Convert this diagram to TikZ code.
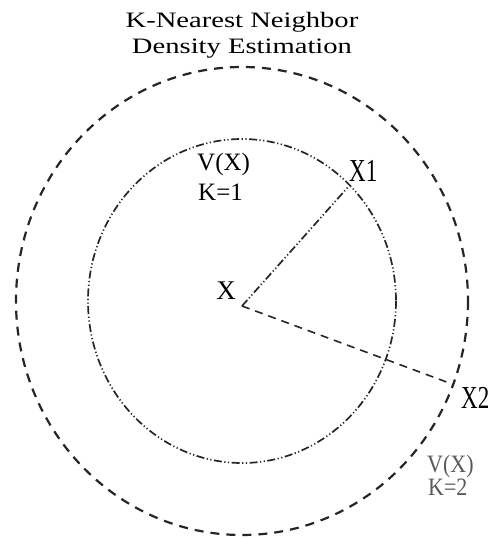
\documentclass[tikz,border=0pt]{standalone}
\usepackage{fontspec}
\setmainfont{Liberation Serif}
\newfontfamily\titlefont[FakeStretch=1.3]{Liberation Serif}
\newfontfamily\narrowfont[FakeStretch=0.72]{Liberation Serif}
\newfontfamily\labfont[FakeStretch=0.88]{Liberation Serif}
\begin{document}
\begin{tikzpicture}[x=1pt,y=-1pt,
  titletext/.style={inner sep=0pt,anchor=base,font=\titlefont\fontsize{22}{26}\selectfont},
  vtext/.style={inner sep=0pt,anchor=base west,font=\fontsize{25}{30}\selectfont},
  vtexttwo/.style={inner sep=0pt,anchor=base west,text=black!65,font=\labfont\fontsize{25}{30}\selectfont},
  ptext/.style={inner sep=0pt,anchor=base west,font=\narrowfont\fontsize{32}{36}\selectfont},
  outerline/.style={line width=2.2pt,dash pattern=on 9pt off 7pt,black!85},
  innerline/.style={line width=1.7pt,dash pattern=on 8pt off 2.5pt on 1.2pt off 2.5pt on 1.2pt off 2.5pt,black!85},
  dashline/.style={line width=1.6pt,dash pattern=on 8pt off 6pt,black!85}]
\useasboundingbox (0,0) rectangle (490,539);
\coordinate (c) at (242,301);
\coordinate (x) at (242,306);
\coordinate (x1) at (349,186);
\coordinate (x2) at (452,384);
% title
\node[titletext] (t1) at (242,27) {K-Nearest Neighbor};
\node[titletext] (t2) at (242,53) {Density Estimation};
% circles
\draw[outerline] (c) ellipse [x radius=226, y radius=234];
\draw[innerline] (c) ellipse [x radius=154, y radius=162];
% radii
\draw[innerline] (x) -- (x1);
\draw[dashline] (x) -- (x2);
% labels
\node[inner sep=0pt,anchor=base,font=\fontsize{27}{30}\selectfont] (xl) at (226,299) {X};
\node[ptext] (x1l) at (349,181) {X1};
\node[ptext] (x2l) at (461,408) {X2};
\node[vtext] (v1) at (197,170) {V(X)};
\node[vtext] (k1) at (198,200) {K=1};
\node[vtexttwo] (v2) at (427,472) {V(X)};
\node[vtexttwo] (k2) at (428,495) {K=2};
\end{tikzpicture}
\end{document}
